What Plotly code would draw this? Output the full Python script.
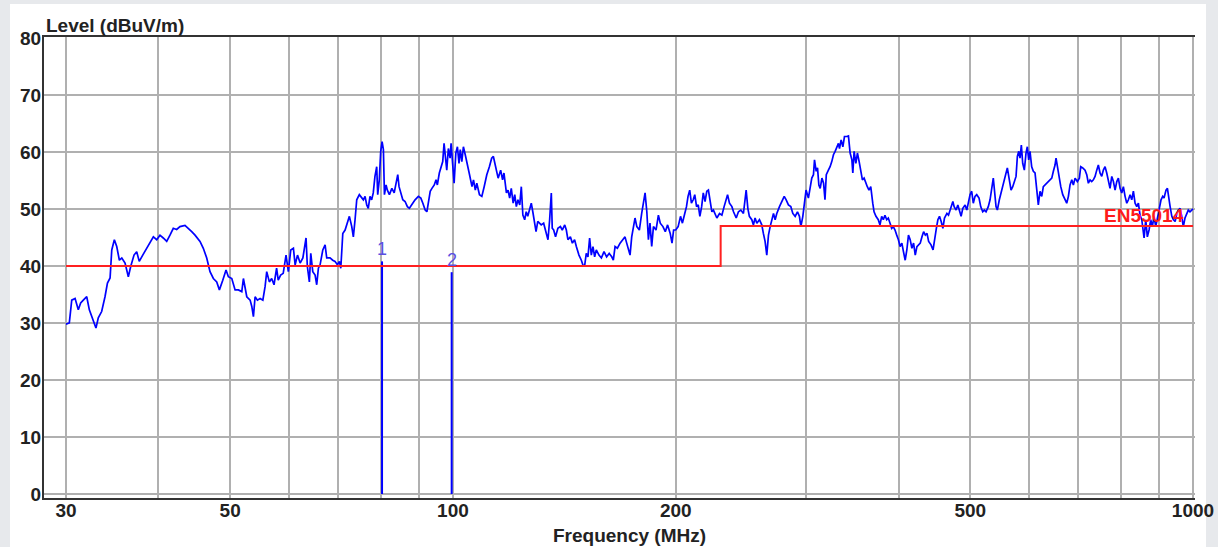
import math
import plotly.graph_objects as go

# ---------------- data ----------------
# Measured trace (frequency in MHz, level in dBuV/m), split into bands
trace_freq_a = [30.00, 30.31, 30.54, 30.86, 31.17, 31.40, 31.66, 32.00, 32.26, 32.56,
                32.93, 33.17, 33.52, 33.87, 34.13, 34.41, 34.59, 34.87, 35.13, 35.42,
                35.69, 36.05, 36.42, 36.69, 37.07, 37.38, 37.68, 38.09, 38.56, 38.96,
                39.37, 39.78, 40.19, 40.60, 41.04, 41.46, 41.89, 42.33, 42.77, 43.44,
                43.89, 44.36, 44.82, 45.52, 45.99, 46.48, 46.96, 47.45, 47.95, 48.35,
                48.86, 49.36, 49.72, 50.25, 50.77, 51.29]
trace_level_a = [29.8, 30.0, 34.0, 34.3, 32.3, 33.5, 34.0, 34.6, 32.3, 30.9,
                 29.1, 30.9, 32.0, 34.6, 37.0, 37.9, 42.8, 44.6, 43.4, 41.0,
                 41.4, 40.5, 38.1, 39.9, 41.9, 42.5, 40.8, 41.9, 43.1, 44.3,
                 45.1, 44.6, 45.4, 44.9, 44.3, 45.4, 46.6, 46.4, 46.9, 47.1,
                 46.6, 46.0, 45.4, 44.3, 43.1, 41.4, 39.0, 37.8, 37.2, 35.8,
                 37.5, 39.3, 38.1, 37.8, 35.8, 35.8]

trace_freq_b = [51.84, 52.10, 52.65, 53.20, 53.48, 53.75, 54.03, 54.42, 54.88, 55.35,
                55.74, 56.02, 56.48, 56.89, 57.31, 57.77, 58.06, 58.50, 58.97, 59.49,
                59.92, 60.37, 60.87, 61.20, 61.65, 62.16, 62.69, 63.31, 63.57, 63.97,
                64.25, 64.65, 65.12, 65.45, 65.79, 66.14, 66.70, 67.18, 67.52, 68.21,
                68.79, 69.28, 69.79, 70.23, 70.54, 70.98, 71.49, 71.86, 72.45, 72.99,
                73.35, 73.74, 74.13, 74.73, 75.29, 75.67, 76.07, 76.47, 76.84, 77.25,
                77.65, 78.04, 78.45, 78.88, 79.13, 79.52, 79.87, 80.21, 80.54, 80.80,
                81.21, 81.54, 82.06, 82.69, 83.29, 83.78, 84.22, 84.56, 85.01, 85.55,
                86.16, 86.78, 87.32, 87.97, 88.88, 89.80]
trace_level_b = [35.5, 37.8, 34.6, 34.0, 32.9, 31.1, 34.6, 34.0, 34.3, 34.0,
                 36.4, 39.0, 37.2, 37.8, 36.7, 39.6, 37.5, 38.4, 38.7, 41.9,
                 39.0, 42.8, 43.1, 40.2, 41.9, 40.5, 41.4, 44.9, 39.9, 37.2,
                 42.2, 39.0, 38.4, 36.7, 39.6, 40.2, 42.8, 43.7, 41.4, 41.4,
                 41.0, 40.8, 40.2, 40.8, 39.6, 45.7, 46.3, 47.2, 48.7, 46.9,
                 45.1, 48.1, 51.6, 52.5, 51.9, 51.6, 52.2, 50.7, 50.1, 52.2,
                 51.6, 52.8, 55.7, 57.4, 52.5, 55.1, 60.1, 61.8, 60.4, 52.5,
                 54.2, 53.3, 52.5, 53.6, 52.8, 54.5, 56.0, 53.9, 52.8, 51.6,
                 51.3, 50.4, 50.1, 50.7, 51.6, 52.2]

trace_freq_c = [90.49, 91.06, 91.72, 92.21, 92.68, 93.17, 93.67, 94.35, 94.87, 95.26,
                95.85, 96.36, 96.87, 97.27, 97.66, 98.09, 98.58, 99.11, 99.42, 99.95,
                100.36, 100.9, 101.4, 101.9, 102.3, 102.8, 103.3, 103.9, 104.4, 105.3,
                106.1, 106.6, 107.2, 107.7, 108.6, 109.4, 110.2, 111.1, 112.0, 112.8,
                113.4, 114.0, 114.6, 115.1, 116.0, 116.7, 117.2, 118.1, 118.7, 119.3,
                119.9, 120.6, 121.2, 121.8, 122.4, 123.1, 123.7, 124.3, 125.0, 125.6,
                126.2, 126.9, 127.6, 128.2, 128.9, 129.5, 130.2, 131.6, 132.6, 133.4,
                134.4, 135.1, 135.8, 136.2, 136.8, 137.6, 138.6, 139.7, 140.5, 141.6,
                142.3, 143.0, 144.1, 145.0, 146.0, 146.8, 148.0, 149.1, 149.8, 150.6,
                151.4, 152.2, 153.0, 153.8, 154.6, 155.4, 156.2, 157.5, 158.7, 160.0,
                161.3, 162.6, 163.9, 164.7, 165.6, 166.8, 168.2, 169.6, 170.8, 171.7,
                172.6, 173.5, 174.4, 175.3, 176.2, 177.2, 178.6, 179.9, 180.8, 181.8,
                182.8, 183.7, 184.6, 185.6, 186.6, 188.1, 189.5]
trace_level_c = [51.9, 51.0, 49.8, 49.5, 51.3, 53.1, 53.6, 54.2, 55.1, 54.2,
                 56.3, 57.4, 58.3, 61.5, 59.2, 56.8, 60.6, 58.9, 61.5, 57.7,
                 54.5, 59.8, 60.9, 58.0, 60.4, 58.3, 60.9, 59.5, 58.0, 56.0,
                 53.9, 55.1, 53.3, 54.5, 52.5, 52.2, 53.9, 56.0, 57.4, 58.9,
                 59.2, 58.0, 56.3, 55.4, 56.8, 55.1, 56.3, 52.8, 53.3, 51.9,
                 53.6, 51.0, 52.5, 50.4, 51.6, 50.7, 53.9, 48.9, 48.1, 49.5,
                 48.7, 50.1, 51.0, 49.5, 47.5, 46.0, 47.8, 47.2, 47.5, 46.0,
                 44.6, 48.1, 52.8, 46.6, 46.3, 45.1, 46.6, 46.9, 46.3, 47.2,
                 46.3, 44.6, 45.1, 44.0, 44.6, 43.4, 41.9, 41.0, 40.2, 39.9,
                 42.2, 41.6, 44.9, 41.9, 43.4, 41.6, 42.8, 41.9, 41.4, 42.5,
                 41.6, 42.2, 41.6, 41.0, 43.4, 43.1, 44.0, 44.6, 45.1, 44.0,
                 42.8, 41.9, 45.1, 46.6, 48.4, 46.9, 46.3, 49.2, 51.0, 52.8,
                 49.5, 44.6, 47.5, 43.4, 46.9, 46.3, 48.9]

trace_freq_d = [190.6, 192.2, 193.6, 195.0, 196.6, 197.7, 198.7, 200.0, 201.5, 203.0,
                204.2, 205.7, 206.8, 207.8, 208.9, 210.0, 211.2, 212.2, 213.4, 214.5,
                215.6, 216.8, 217.9, 219.1, 220.3, 221.4, 222.6, 223.8, 224.9, 226.1,
                227.3, 229.2, 230.9, 232.5, 234.0, 235.0, 236.4, 238.2, 239.4, 241.4,
                243.1, 244.9, 246.9, 249.0, 250.3, 251.5, 253.4, 254.7, 256.0, 257.4,
                259.5, 261.4, 262.7, 264.1, 265.5, 266.9, 268.3, 269.7, 271.1, 272.5,
                273.9, 276.2, 278.3, 280.3, 282.0, 284.0, 286.1, 287.9, 290.0, 292.1,
                293.9, 295.2, 297.0, 299.2, 300.0, 302.2, 303.8, 305.4, 307.0, 308.0,
                309.6, 310.9, 312.2, 313.5, 315.2, 316.8, 318.2, 319.5, 321.6, 323.3,
                325.0, 326.7, 328.4, 330.1, 331.8, 332.9, 334.6, 336.4, 338.1, 340.6,
                342.3, 344.1, 346.0, 347.0, 348.4, 350.3, 352.0, 353.9, 355.7, 357.5,
                359.4, 361.3, 363.0, 364.9, 366.9, 369.2, 370.7, 372.9, 375.6, 377.6,
                379.6, 381.5, 383.5, 385.6, 387.5, 389.6, 391.6, 393.6, 395.7, 397.8,
                399.9, 402.0, 404.2, 406.2, 408.4, 410.5, 412.6, 414.8, 417.0, 419.2,
                421.4, 423.6, 425.8, 428.0, 430.3, 432.5, 434.8, 437.1, 439.3, 442.6,
                445.4, 447.6, 450.0, 452.1, 454.4, 456.8, 459.2, 461.5, 465.0, 467.3,
                470.7, 473.7, 475.6, 478.5, 481.1, 483.5, 486.0, 488.6, 492.1, 494.7,
                497.1, 499.7]
trace_level_d = [47.5, 46.9, 46.0, 47.2, 45.7, 44.0, 46.3, 46.3, 46.9, 48.7,
                 47.5, 49.2, 50.4, 52.2, 53.3, 51.0, 51.6, 52.5, 50.4, 50.7,
                 48.7, 50.4, 52.8, 51.3, 53.1, 53.3, 51.3, 49.5, 49.8, 48.9,
                 48.4, 49.2, 48.9, 50.4, 51.9, 52.5, 51.0, 50.4, 49.5, 48.4,
                 49.5, 49.8, 49.2, 53.3, 50.1, 48.7, 48.1, 47.2, 48.4, 47.5,
                 48.1, 47.2, 45.7, 44.3, 41.9, 45.4, 46.9, 48.4, 49.2, 48.1,
                 49.2, 50.4, 51.3, 52.2, 51.6, 50.7, 50.4, 49.2, 48.7, 49.5,
                 48.7, 46.9, 48.7, 51.6, 53.3, 51.9, 53.9, 55.4, 56.0, 58.6,
                 56.6, 57.2, 54.2, 53.6, 55.4, 54.5, 51.6, 56.0, 56.8, 57.4,
                 58.3, 59.5, 60.1, 60.9, 61.5, 60.6, 62.1, 60.9, 62.7, 62.7,
                 62.8, 59.8, 58.6, 56.3, 60.1, 58.0, 59.8, 58.3, 56.8, 55.1,
                 55.4, 54.5, 53.9, 53.3, 53.9, 51.0, 49.5, 48.7, 48.1, 47.2,
                 48.7, 48.1, 48.9, 48.1, 48.4, 47.5, 46.6, 46.9, 46.3, 45.4,
                 44.6, 43.4, 44.0, 42.5, 41.0, 42.8, 45.4, 44.6, 43.1, 44.0,
                 41.9, 43.4, 43.7, 44.0, 45.1, 46.0, 45.4, 45.7, 44.3, 43.7,
                 42.8, 44.3, 46.6, 48.1, 48.7, 47.8, 46.6, 48.4, 49.2, 48.9,
                 50.1, 51.3, 50.4, 49.8, 50.7, 49.8, 48.7, 50.1, 50.7, 49.8,
                 51.3, 52.5]

trace_freq_e = [502.3, 504.8, 507.5, 510.2, 513.9, 516.6, 519.8, 522.4, 525.2, 528.9,
                531.8, 534.6, 537.2, 541.8, 544.0, 547.4, 551.5, 555.5, 559.0, 561.2,
                564.7, 567.7, 570.7, 573.6, 576.6, 579.0, 581.5, 583.8, 586.2, 588.7,
                591.7, 594.8, 597.2, 599.8, 602.2, 605.4, 608.5, 611.7, 614.9, 618.0,
                621.3, 624.6, 627.7, 631.1, 635.6, 639.6, 644.4, 647.6, 651.0, 653.0,
                655.7, 659.2, 662.7, 666.8, 671.6, 675.1, 678.6, 682.1, 685.8, 689.2,
                692.9, 697.8, 702.2, 705.2, 709.6, 714.7, 718.5, 722.1, 725.9, 729.7,
                733.4, 737.3, 741.2, 744.9, 748.8, 752.8, 756.6, 760.6, 764.6, 768.4,
                772.5, 776.7, 780.6, 784.7, 788.9, 792.8, 797.0, 801.2, 805.2, 809.5,
                813.8, 817.9, 822.2, 826.5, 830.7, 835.1, 839.5, 843.7, 848.1, 852.7,
                855.3, 858.8, 863.3, 867.6, 872.2, 876.8, 881.2, 885.8, 890.5, 895.0,
                900.6, 905.3, 910.1, 913.8, 919.5, 923.5, 927.5, 931.3, 936.2, 940.9,
                945.9, 950.9, 955.6, 960.7, 965.5, 970.3, 975.4, 980.6, 985.5, 990.7,
                996.0, 1000.0]
trace_level_e = [53.1, 51.0, 52.2, 52.5, 51.9, 50.4, 49.5, 49.8, 49.5, 50.4,
                 51.6, 53.9, 55.4, 50.4, 49.8, 51.6, 53.3, 54.5, 56.3, 57.2,
                 55.1, 53.3, 53.9, 54.8, 55.7, 59.2, 60.1, 58.9, 61.2, 58.0,
                 56.8, 59.8, 60.9, 58.6, 60.1, 57.4, 56.6, 56.3, 53.9, 50.7,
                 53.1, 52.2, 53.9, 54.2, 54.5, 54.8, 55.4, 56.6, 57.7, 58.9,
                 57.4, 56.3, 53.9, 52.5, 51.6, 51.0, 52.2, 54.2, 55.1, 54.2,
                 55.4, 54.8, 55.4, 57.4, 57.2, 56.8, 56.0, 54.5, 55.1, 54.8,
                 55.1, 55.7, 56.8, 57.7, 56.3, 55.7, 56.8, 57.4, 56.3, 55.1,
                 53.6, 55.7, 54.8, 53.3, 54.8, 55.4, 53.6, 52.8, 53.9, 52.2,
                 51.0, 51.6, 52.5, 51.6, 53.1, 51.0, 50.4, 51.0, 48.9, 48.1,
                 46.3, 44.9, 48.1, 45.1, 46.3, 48.1, 46.9, 48.7, 46.9, 48.7,
                 50.1, 51.6, 52.2, 51.9, 53.3, 53.6, 51.6, 50.4, 48.7, 48.1,
                 47.8, 49.2, 49.8, 50.1, 48.7, 46.9, 48.4, 49.2, 49.8, 49.5,
                 49.8, 50.0]

# Limit line EN55014
limit_name = "EN55014"
limit_freq = [30, 230, 230, 1000]
limit_level = [40, 40, 47, 47]

# Markers
marker_labels = ["1", "2"]
marker_freq = [80.2, 99.6]
marker_level = [40.8, 38.9]

# Axes
y_ticks = [0, 10, 20, 30, 40, 50, 60, 70, 80]
x_ticks = [30, 40, 50, 60, 70, 80, 90, 100, 200, 300, 400, 500, 600, 700, 800, 900, 1000]
x_tick_text = ["30", "", "50", "", "", "", "", "100", "200", "", "", "500", "", "", "", "", "1000"]
y_title = "Level (dBuV/m)"
x_title = "Frequency (MHz)"

# ---------------- build ----------------
def pairs(f, l):
    n = min(len(f), len(l))
    return f[:n], l[:n]

trace_f, trace_l = [], []
for f, l in [(trace_freq_a, trace_level_a), (trace_freq_b, trace_level_b),
             (trace_freq_c, trace_level_c), (trace_freq_d, trace_level_d),
             (trace_freq_e, trace_level_e)]:
    ff, ll = pairs(f, l)
    trace_f += ff
    trace_l += ll

FONT = "Liberation Sans, Arial, sans-serif"
TXT = "#222222"

fig = go.Figure()
fig.add_trace(go.Scatter(x=trace_f, y=trace_l, mode="lines",
                         line=dict(color="#0000ff", width=1.7), hoverinfo="skip"))
for f, l in zip(marker_freq, marker_level):
    fig.add_trace(go.Scatter(x=[f, f], y=[0, l], mode="lines",
                             line=dict(color="#0000ff", width=2), hoverinfo="skip"))
fig.add_trace(go.Scatter(x=limit_freq, y=limit_level, mode="lines",
                         line=dict(color="#ff2020", width=2), hoverinfo="skip"))

annotations = []
for lab, f, l in zip(marker_labels, marker_freq, marker_level):
    annotations.append(dict(x=math.log10(f), y=l, xref="x", yref="y", text=lab,
                            showarrow=False, yanchor="middle", xanchor="center", yshift=12,
                            font=dict(family=FONT, size=18, color="#5b4fe0")))
annotations.append(dict(x=0.9922, y=limit_level[-1], xref="paper", yref="y", text=limit_name,
                        showarrow=False, xanchor="right", yanchor="middle", yshift=11,
                        font=dict(family=FONT, size=19, color="#ff1a1a", weight="bold")))
annotations.append(dict(x=0, y=1.026, xref="paper", yref="paper", text=y_title,
                        showarrow=False, xanchor="left", yanchor="middle",
                        font=dict(family=FONT, size=19, color=TXT, weight="bold")))
annotations.append(dict(x=0.509, y=-0.0803, xref="paper", yref="paper", text=x_title,
                        showarrow=False, xanchor="center", yanchor="middle",
                        font=dict(family=FONT, size=19, color=TXT, weight="bold")))

W, H = 1218, 547
L_M, R_M, T_M, B_M = 44, 23, 37, 49
pw, ph = W - L_M - R_M, H - T_M - B_M

shapes = [dict(type="rect", xref="paper", yref="paper",
               x0=(10 - L_M) / pw, x1=(1206 - L_M) / pw,
               y0=-(B_M + 2) / ph, y1=1 + (T_M - 4) / ph,
               fillcolor="white", line=dict(width=0), layer="below")]

tickfont = dict(family=FONT, size=19, color=TXT, weight="bold")
fig.update_layout(
    width=W, height=H,
    margin=dict(l=L_M, r=R_M, t=T_M, b=B_M, autoexpand=False),
    paper_bgcolor="#e7e9ec", plot_bgcolor="white",
    showlegend=False,
    annotations=annotations, shapes=shapes,
    xaxis=dict(type="log", range=[math.log10(30) - 22 / 740, 3 + 2 / 740],
               tickmode="array", tickvals=x_ticks, ticktext=x_tick_text,
               showgrid=True, gridcolor="#b0b0b0", gridwidth=2, zeroline=False,
               showline=True, linecolor="#333333", linewidth=2, mirror=True,
               ticks="", tickfont=tickfont, automargin=False, ticklabelstandoff=-6),
    yaxis=dict(range=[-0.7, 80.15], tickmode="array", tickvals=y_ticks,
               showgrid=True, gridcolor="#b0b0b0", gridwidth=2, zeroline=False,
               showline=True, linecolor="#333333", linewidth=2,
               ticks="", tickfont=tickfont, automargin=False, ticklabelstandoff=-3),
)

fig.write_html("out.html")
